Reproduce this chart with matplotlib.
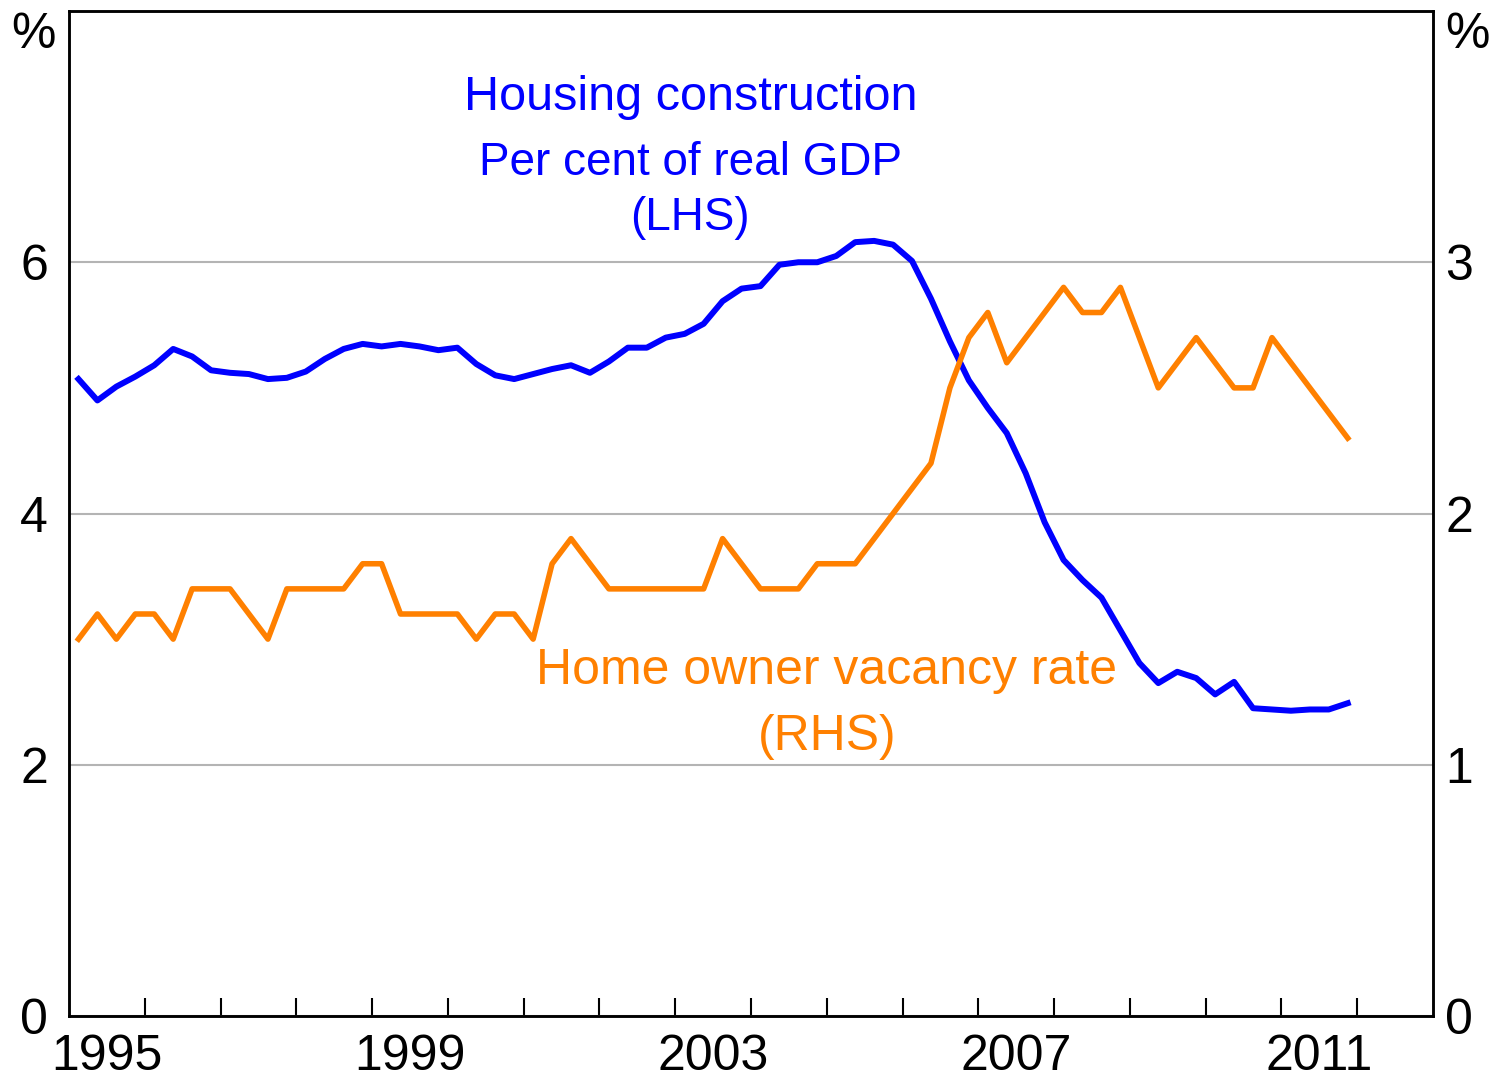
import numpy as np
import matplotlib
matplotlib.use("Agg")
import matplotlib.pyplot as plt
from matplotlib.ticker import FixedLocator

plt.rcParams['font.family'] = ['Liberation Sans', 'DejaVu Sans']

# quarterly, 1995 Q1 to 2011 Q4
construction = [5.07, 4.90, 5.01, 5.09, 5.18, 5.31, 5.25, 5.14, 5.12, 5.11,
                5.07, 5.08, 5.13, 5.23, 5.31, 5.35, 5.33, 5.35, 5.33, 5.30,
                5.32, 5.19, 5.10, 5.07, 5.11, 5.15, 5.18, 5.12, 5.21, 5.32,
                5.32, 5.40, 5.43, 5.51, 5.69, 5.79, 5.81, 5.98, 6.00, 6.00,
                6.05, 6.16, 6.17, 6.14, 6.01, 5.71, 5.37, 5.06, 4.84, 4.64,
                4.32, 3.93, 3.63, 3.47, 3.33, 3.07, 2.81, 2.65, 2.74, 2.69,
                2.56, 2.66, 2.45, 2.44, 2.43, 2.44, 2.44, 2.49]
vacancy = [1.5, 1.6, 1.5, 1.6, 1.6, 1.5, 1.7, 1.7, 1.7, 1.6,
           1.5, 1.7, 1.7, 1.7, 1.7, 1.8, 1.8, 1.6, 1.6, 1.6,
           1.6, 1.5, 1.6, 1.6, 1.5, 1.8, 1.9, 1.8, 1.7, 1.7,
           1.7, 1.7, 1.7, 1.7, 1.9, 1.8, 1.7, 1.7, 1.7, 1.8,
           1.8, 1.8, 1.9, 2.0, 2.1, 2.2, 2.5, 2.7, 2.8, 2.6,
           2.7, 2.8, 2.9, 2.8, 2.8, 2.9, 2.7, 2.5, 2.6, 2.7,
           2.6, 2.5, 2.5, 2.7, 2.6, 2.5, 2.4, 2.3]
year_labels = ['1995', '1999', '2003', '2007', '2011']
left_ticks = [0, 2, 4, 6]
right_ticks = [0, 1, 2, 3]

dates = 1995.125 + 0.25 * np.arange(len(construction))

BLUE = '#0000ff'
ORANGE = '#ff8000'
FS = 36

fig = plt.figure(figsize=(14.95, 10.79), dpi=100)
ax = fig.add_axes([69 / 1495, 63 / 1079, 1364 / 1495, 1005 / 1079])
ax2 = ax.twinx()

ax.plot(dates, construction, color=BLUE, lw=4.3, zorder=3)
ax2.plot(dates, vacancy, color=ORANGE, lw=4.0, zorder=3)

ax.set_xlim(1995, 2013)
ax.set_ylim(0, 8)
ax2.set_ylim(0, 4)

# year labels centred in the year, inward ticks at year boundaries
ax.xaxis.set_major_locator(FixedLocator([int(y) + 0.5 for y in year_labels]))
ax.set_xticklabels(year_labels)
ax.xaxis.set_minor_locator(FixedLocator(np.arange(1996, 2013)))
ax.tick_params(axis='x', which='major', length=0, pad=13, labelsize=FS)
ax.tick_params(axis='x', which='minor', direction='in', length=13, width=1.5)

ax.set_yticks(left_ticks)
ax.tick_params(axis='y', length=0, pad=15, labelsize=FS)
ax2.set_yticks(right_ticks)
ax2.tick_params(axis='y', length=0, pad=9, labelsize=FS)

ax.grid(axis='y', color='#b4b4b4', lw=1.5)
ax.set_axisbelow(True)
for a in (ax, ax2):
    for s in a.spines.values():
        s.set_linewidth(1.8)

ax.text(-0.01, 0.999, '%', transform=ax.transAxes, ha='right', va='top', fontsize=FS)
ax.text(1.009, 0.999, '%', transform=ax.transAxes, ha='left', va='top', fontsize=FS)

ax.text(2003.2, 7.31, 'Housing construction', color=BLUE, ha='center', va='center', fontsize=35)
ax.text(2003.2, 6.79, 'Per cent of real GDP', color=BLUE, ha='center', va='center', fontsize=33)
ax.text(2003.2, 6.35, '(LHS)', color=BLUE, ha='center', va='center', fontsize=33)

ax.text(2005.0, 2.75, 'Home owner vacancy rate', color=ORANGE, ha='center', va='center', fontsize=FS)
ax.text(2005.0, 2.22, '(RHS)', color=ORANGE, ha='center', va='center', fontsize=FS)

fig.savefig('out.png', dpi=100)
